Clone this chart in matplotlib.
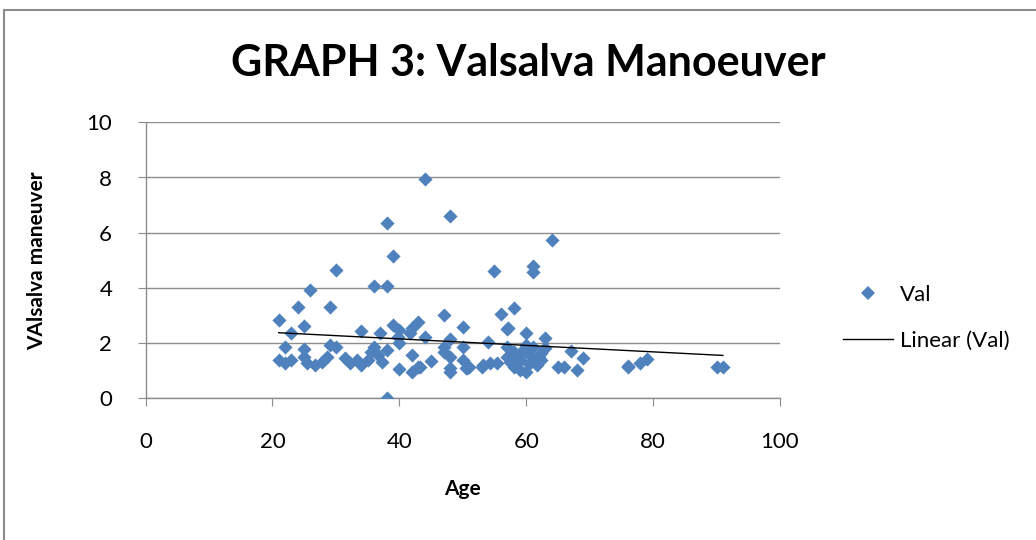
import matplotlib
matplotlib.use("Agg")
import matplotlib.pyplot as plt
import matplotlib.patches as patches
from matplotlib.lines import Line2D
import numpy as np

plt.rcParams['font.family'] = ['Lato', 'DejaVu Sans']

# data (age, valsalva ratio)
age = [21, 21, 22, 22, 23, 23, 24, 25, 25, 25, 25.5, 26, 26.7, 27.8, 28.6,
       29, 29, 30, 30, 31.4, 32.2, 33.3, 34, 34, 35, 35.6, 36, 36, 36.7, 37,
       37.2, 38, 38, 38, 38, 39, 39, 39.8, 40, 40, 40, 41.7, 42, 42, 42, 43,
       43, 43.3, 44, 44, 45, 47, 47, 47, 48, 48, 48, 48, 48, 50, 50, 50, 50.5,
       50.6, 51, 53, 53.2, 54, 54.3, 55, 55.4, 56, 57, 57, 57, 57.2, 57.5, 58,
       58, 58, 58.5, 59, 59, 59, 59.5, 60, 60, 60, 60, 60.5, 61, 61, 61, 61,
       61.7, 62, 62.4, 62.4, 63, 63, 64, 65, 66, 67, 68, 69, 76, 76, 78, 79,
       90, 91]
val = [2.85, 1.39, 1.85, 1.27, 2.37, 1.39, 3.30, 2.62, 1.78, 1.51, 1.27, 3.92,
       1.21, 1.33, 1.51, 3.30, 1.93, 4.66, 1.87, 1.45, 1.27, 1.39, 2.45, 1.21,
       1.39, 1.69, 4.08, 1.87, 1.57, 2.38, 1.33, 4.08, 6.34, 1.75, 0.0, 5.17,
       2.66, 2.23, 2.47, 1.99, 1.05, 2.35, 2.54, 1.57, 0.96, 2.78, 1.12, 1.15,
       7.95, 2.23, 1.35, 3.02, 1.87, 1.69, 6.59, 2.14, 1.49, 1.09, 0.96, 2.57,
       1.87, 1.39, 1.09, 1.09, 1.12, 1.12, 1.21, 2.05, 1.27, 4.60, 1.27, 3.04,
       2.51, 1.87, 1.51, 2.54, 1.30, 3.26, 1.69, 1.12, 1.55, 1.39, 1.03, 1.60,
       1.75, 2.38, 1.93, 1.69, 0.96, 1.25, 4.79, 4.59, 1.45, 1.85, 1.21, 1.50,
       1.63, 1.39, 2.17, 1.81, 5.75, 1.15, 1.15, 1.73, 1.03, 1.45, 1.15, 1.17,
       1.27, 1.41, 1.12, 1.12]

x_ticks = [0, 20, 40, 60, 80, 100]
y_ticks = [0, 2, 4, 6, 8, 10]

blue = "#4F81BD"
grid_c = "#8C8C8C"

fig = plt.figure(figsize=(10.36, 5.40), dpi=100, facecolor="white")
ax = fig.add_axes([145.5 / 1036, 1 - 398.3 / 540, (780 - 145.5) / 1036, (398.3 - 122.3) / 540])

# outer chart frame
fig.patches.append(patches.Rectangle((4 / 1036, -0.05), 1.1, 1 - 10 / 540 + 0.05,
                                     transform=fig.transFigure, fill=False,
                                     edgecolor="#8C8C8C", linewidth=1.5))

ax.scatter(age, val, marker="D", s=52, color=blue, linewidths=0, zorder=3)

# linear trendline
k, b = np.polyfit(age, val, 1)
xs = np.array([min(age), max(age)])
ax.plot(xs, k * xs + b, color="black", linewidth=1.0, zorder=4)

ax.set_xlim(0, 100)
ax.set_ylim(0, 10)
ax.set_xticks(x_ticks)
ax.set_yticks(y_ticks)
ax.yaxis.grid(True, color=grid_c, linewidth=1.0)
ax.set_axisbelow(True)
for s in ["top", "right"]:
    ax.spines[s].set_visible(False)
for s in ["left", "bottom"]:
    ax.spines[s].set_color(grid_c)
    ax.spines[s].set_linewidth(1.0)
ax.tick_params(direction="out", length=6, color=grid_c, labelsize=16, labelcolor="black")
ax.tick_params(axis="x", pad=18)
ax.tick_params(axis="y", pad=18)

ax.set_xlabel("Age", fontsize=15, fontweight="bold", labelpad=20)
ax.set_ylabel("VAlsalva maneuver", fontsize=15, fontweight="bold", labelpad=28)

fig.text(528 / 1036, 1 - 63 / 540, "GRAPH 3: Valsalva Manoeuver", ha="center", va="center",
         fontsize=31, fontweight="bold")

handles = [Line2D([], [], marker="D", linestyle="none", color=blue, markersize=7.5, markeredgewidth=0),
           Line2D([], [], color="black", linewidth=1.0)]
fig.legend(handles, ["Val", "Linear (Val)"], loc="center left",
           bbox_to_anchor=(843 / 1036, 1 - 318 / 540), frameon=False, fontsize=16,
           handlelength=2.25, labelspacing=1.15, handletextpad=0.3,
           borderpad=0, borderaxespad=0)

fig.savefig("out.png", dpi=100, facecolor="white")
